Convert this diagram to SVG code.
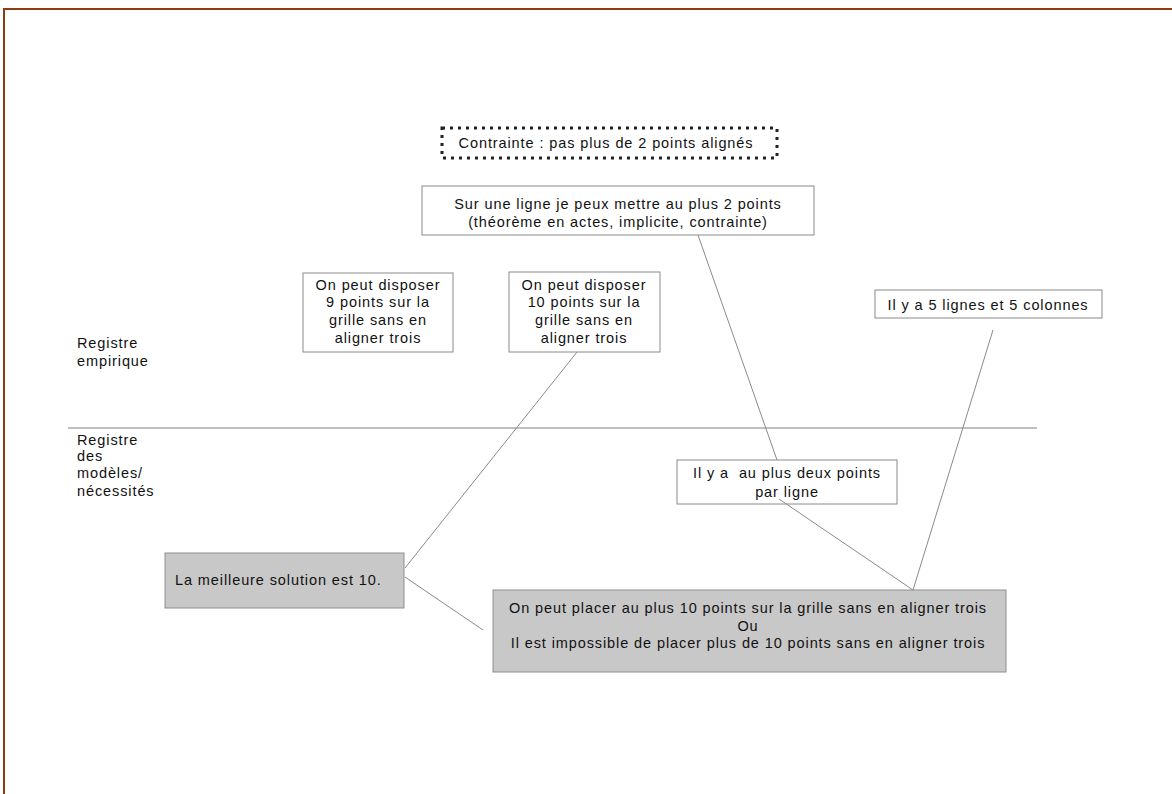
<svg xmlns="http://www.w3.org/2000/svg" width="1172" height="794" viewBox="0 0 1172 794">
<style>
text{font-family:"Liberation Sans",Arial,sans-serif;font-size:14.5px;fill:#111;letter-spacing:0.9px}
.c{text-anchor:middle}
.box{fill:#fff;stroke:#8a8a8a;stroke-width:1}
.gbox{fill:#c8c8c8;stroke:#8f8f8f;stroke-width:1}
.conn{stroke:#8a8a8a;stroke-width:1;fill:none}
</style>
<rect x="0" y="0" width="1172" height="794" fill="#fff"/>
<path d="M4 794 V9 H1172" fill="none" stroke="#8e3b12" stroke-width="2"/>
<g id="divider"><line x1="68" y1="428" x2="1037" y2="428" stroke="#808080" stroke-width="1.2"/></g>
<g id="contrainte">
<rect x="442" y="128" width="335" height="30" fill="none" stroke="#222" stroke-width="3" stroke-dasharray="3 5"/>
<text class="c" x="606" y="148">Contrainte : pas plus de 2 points alignés</text>
</g>
<g id="sur-une-ligne">
<rect class="box" x="422" y="186" width="392" height="49"/>
<text class="c" x="618" y="209">Sur une ligne je peux mettre au plus 2 points</text>
<text class="c" x="618" y="227">(théorème en actes, implicite, contrainte)</text>
</g>
<g id="neuf-points">
<rect class="box" x="303" y="273" width="150" height="79"/>
<text class="c" x="378" y="290">On peut disposer</text>
<text class="c" x="378" y="307">9 points sur la</text>
<text class="c" x="378" y="325">grille sans en</text>
<text class="c" x="378" y="343">aligner trois</text>
</g>
<g id="dix-points">
<rect class="box" x="509" y="272" width="151" height="80"/>
<text class="c" x="584" y="290">On peut disposer</text>
<text class="c" x="584" y="307">10 points sur la</text>
<text class="c" x="584" y="325">grille sans en</text>
<text class="c" x="584" y="343">aligner trois</text>
</g>
<g id="cinq-lignes">
<rect class="box" x="875" y="290" width="227" height="28"/>
<text class="c" x="988" y="310">Il y a 5 lignes et 5 colonnes</text>
</g>
<g id="registre-empirique">
<text x="77" y="348">Registre</text>
<text x="77" y="366">empirique</text>
</g>
<g id="registre-modeles">
<text x="77" y="445">Registre</text>
<text x="77" y="461">des</text>
<text x="77" y="478">modèles/</text>
<text x="77" y="496">nécessités</text>
</g>
<g id="deux-points-par-ligne">
<rect class="box" x="677" y="460" width="220" height="44"/>
<text class="c" x="787" y="478" xml:space="preserve">Il y a  au plus deux points</text>
<text class="c" x="787" y="497">par ligne</text>
</g>
<g id="meilleure-solution">
<rect class="gbox" x="165" y="553" width="239" height="55"/>
<text x="175" y="585">La meilleure solution est 10.</text>
</g>
<g id="conclusion">
<rect class="gbox" x="493" y="590" width="513" height="82"/>
<text class="c" x="748" y="613">On peut placer au plus 10 points sur la grille sans en aligner trois</text>
<text class="c" x="748" y="631">Ou</text>
<text class="c" x="748" y="648">Il est impossible de placer plus de 10 points sans en aligner trois</text>
</g>
<g id="connectors">
<line class="conn" x1="698" y1="235" x2="777" y2="460"/>
<line class="conn" x1="779" y1="499" x2="913" y2="590"/>
<line class="conn" x1="993" y1="330" x2="913" y2="590"/>
<line class="conn" x1="577" y1="352" x2="405" y2="568"/>
<line class="conn" x1="405" y1="577" x2="483" y2="630"/>
</g>
</svg>
